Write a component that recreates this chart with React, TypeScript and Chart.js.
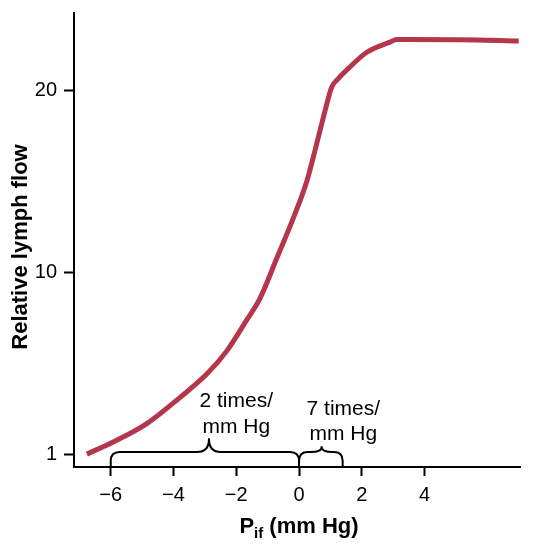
import React, { useEffect, useRef } from "react";
import { Chart, registerables } from "chart.js";

Chart.register(...registerables);

// P_if (mm Hg)
const pifValues = [-6.76, -5.92, -4.85, -3.79, -2.94, -2.3, -1.67, -1.24, -0.71, -0.18, 0.25, 0.56, 0.83, 1.04, 1.25, 1.62, 2.16, 2.9, 3.11, 5.13, 7.0];
// Relative lymph flow
const lymphFlow = [1.0, 1.6, 2.51, 3.81, 4.96, 6.11, 7.63, 8.72, 10.77, 12.99, 15.02, 17.05, 18.89, 20.18, 20.65, 21.29, 22.1, 22.66, 22.8, 22.79, 22.72];

const xTickValues = [-6, -4, -2, 0, 2, 4];
const yTickValues = [1, 10, 20];
const yTickLabels = ["1", "10", "20"];

const braceRanges = [
  { from: -6, to: 0, tip: -2.87, line: 15, tipH: 28 },
  { from: 0, to: 1.39, tip: 0.72, line: 15, tipH: 20 },
];
const annotations = [
  { x: -2.0, lines: ["2 times/", "mm Hg"], base: [-60, -34] },
  { x: 1.41, lines: ["7 times/", "mm Hg"], base: [-52, -27] },
];

// the figure's y axis puts its ticks 1, 10, 20 evenly apart
function toAxis(v: number): number {
  const t = yTickValues;
  if (v <= t[1]) return (v - t[0]) / (t[1] - t[0]);
  return 1 + (v - t[1]) / (t[2] - t[1]);
}

const FONT = "'Liberation Sans', Arial, Helvetica, sans-serif";

function drawBrace(ctx: CanvasRenderingContext2D, x1: number, x2: number, xm: number, yBase: number, yLine: number, yTip: number) {
  const r = Math.min(9, (x2 - x1) / 5);
  const rt = Math.min(12, (x2 - x1) / 4);
  ctx.beginPath();
  ctx.moveTo(x1, yBase);
  ctx.lineTo(x1, yLine + r);
  ctx.quadraticCurveTo(x1, yLine, x1 + r, yLine);
  ctx.lineTo(xm - rt, yLine);
  ctx.quadraticCurveTo(xm, yLine, xm, yTip);
  ctx.quadraticCurveTo(xm, yLine, xm + rt, yLine);
  ctx.lineTo(x2 - r, yLine);
  ctx.quadraticCurveTo(x2, yLine, x2, yLine + r);
  ctx.lineTo(x2, yBase);
  ctx.stroke();
}

const overlayPlugin = {
  id: "overlay",
  afterDraw(chart: any) {
    const ctx: CanvasRenderingContext2D = chart.ctx;
    const xs = chart.scales.x;
    const area = chart.chartArea;
    ctx.save();
    ctx.strokeStyle = "#000";
    ctx.lineWidth = 2;
    ctx.lineJoin = "round";
    braceRanges.forEach((b) => {
      drawBrace(
        ctx,
        xs.getPixelForValue(b.from),
        xs.getPixelForValue(b.to),
        xs.getPixelForValue(b.tip),
        area.bottom,
        area.bottom - b.line,
        area.bottom - b.tipH
      );
    });

    ctx.fillStyle = "#000";
    ctx.font = `21px ${FONT}`;
    ctx.textAlign = "center";
    ctx.textBaseline = "alphabetic";
    annotations.forEach((a) => {
      const px = xs.getPixelForValue(a.x);
      a.lines.forEach((t, i) => ctx.fillText(t, px, area.bottom + a.base[i]));
    });

    // y title
    ctx.save();
    ctx.translate(21, 247);
    ctx.rotate(-Math.PI / 2);
    ctx.font = `bold 22px ${FONT}`;
    ctx.textAlign = "center";
    ctx.textBaseline = "middle";
    ctx.fillText("Relative lymph flow", 0, 0);
    ctx.restore();

    // x title with subscript
    const big = `bold 22px ${FONT}`;
    const small = `bold 15px ${FONT}`;
    ctx.textAlign = "left";
    ctx.textBaseline = "alphabetic";
    ctx.font = big;
    const wP = ctx.measureText("P").width;
    const wRest = ctx.measureText(" (mm Hg)").width;
    ctx.font = small;
    const wSub = ctx.measureText("if").width;
    const total = wP + wSub + wRest;
    let x = 299 - total / 2;
    const baseY = 533;
    ctx.font = big;
    ctx.fillText("P", x, baseY);
    x += wP;
    ctx.font = small;
    ctx.fillText("if", x, baseY + 5);
    x += wSub;
    ctx.font = big;
    ctx.fillText(" (mm Hg)", x, baseY);
    ctx.restore();
  },
};

export default function App() {
  const ref = useRef<HTMLCanvasElement | null>(null);
  useEffect(() => {
    if (!ref.current) return;
    const points = pifValues.map((x, i) => ({ x, y: toAxis(lymphFlow[i]) }));
    const chart = new Chart(ref.current, {
      type: "line",
      data: {
        datasets: [
          {
            data: points,
            borderColor: "#B5364A",
            borderWidth: 5,
            pointRadius: 0,
            cubicInterpolationMode: "monotone",
            fill: false,
          },
        ],
      },
      options: {
        animation: false,
        responsive: true,
        maintainAspectRatio: false,
        layout: { padding: { top: 13, right: 14, left: 0, bottom: 0 } },
        plugins: { legend: { display: false }, tooltip: { enabled: false } },
        scales: {
          x: {
            type: "linear",
            min: -7.17,
            max: 7.04,
            afterBuildTicks: (s: any) => {
              s.ticks = xTickValues.map((v) => ({ value: v }));
            },
            afterFit: (s: any) => {
              s.height = 78;
              s.paddingLeft = 0;
              s.paddingRight = 0;
            },
            ticks: {
              color: "#000",
              font: { family: FONT, size: 20 },
              padding: 7,
              maxRotation: 0,
              callback: (v: any) => (Number(v) < 0 ? "\u2212" + Math.abs(Number(v)) : String(v)),
            },
            grid: { drawOnChartArea: false, tickLength: 9, tickWidth: 2, tickColor: "#000" },
            border: { display: true, color: "#000", width: 2 },
          },
          y: {
            type: "linear",
            min: -0.0709,
            max: 2.426,
            afterBuildTicks: (s: any) => {
              s.ticks = yTickValues.map((_, i) => ({ value: i }));
            },
            afterFit: (s: any) => {
              s.width = 74;
              s.paddingTop = 0;
              s.paddingBottom = 0;
            },
            ticks: {
              color: "#000",
              font: { family: FONT, size: 20 },
              padding: 7,
              callback: (v: any) => yTickLabels[Math.round(Number(v))] ?? "",
            },
            grid: { drawOnChartArea: false, tickLength: 10, tickWidth: 2, tickColor: "#000" },
            border: { display: true, color: "#000", width: 2 },
          },
        },
      },
      plugins: [overlayPlugin],
    } as any);
    return () => chart.destroy();
  }, []);
  return (
    <div style={{ position: "absolute", left: 0, top: 0, width: 534, height: 545, background: "#fff" }}>
      <canvas ref={ref} />
    </div>
  );
}
